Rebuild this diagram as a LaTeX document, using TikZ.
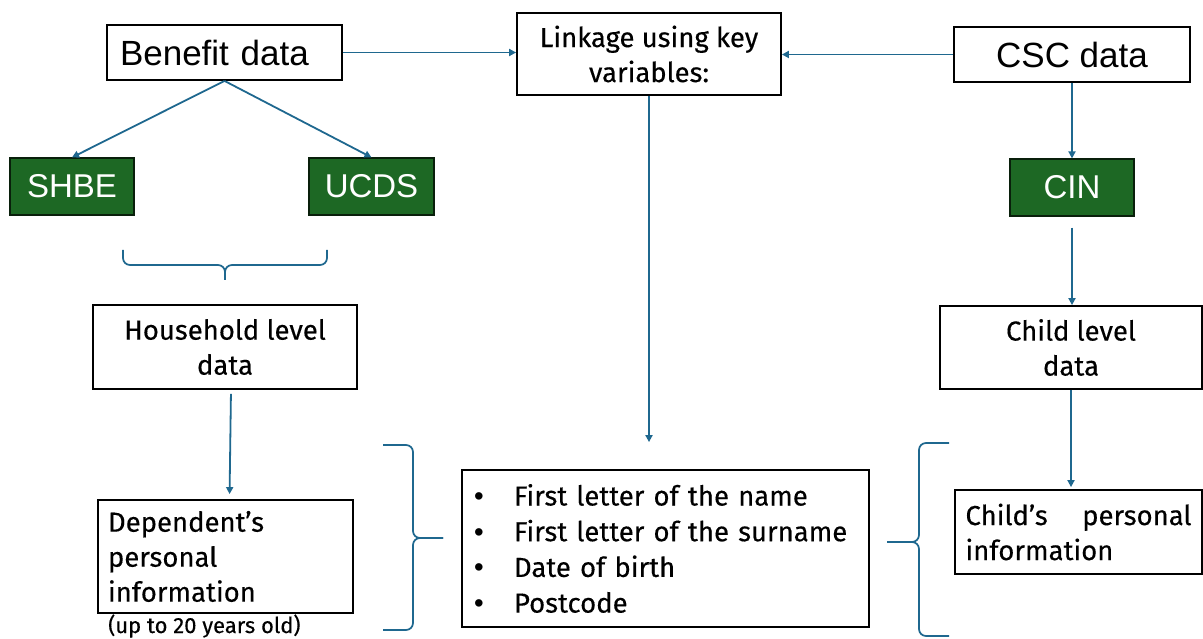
\documentclass[tikz,border=0pt]{standalone}
\usepackage{fontspec}
\setmainfont{Fira Sans}[UprightFeatures={FakeBold=0.3}]
\newfontfamily\arialfont{Liberation Sans}
\usetikzlibrary{arrows.meta,calc}
\definecolor{linkblue}{RGB}{31,104,143}
\definecolor{srcgreen}{RGB}{29,104,36}
\newcommand{\keybullet}{\makebox[40pt][l]{\arialfont\textbullet}}
\begin{document}
\begin{tikzpicture}[x=1pt,y=-1pt,
  box/.style={draw=black, line width=1.8pt, inner sep=0pt, fill=white},
  srcbox/.style={box, minimum height=55pt, font=\arialfont\fontsize{35}{40}\selectfont},
  greenbox/.style={draw=black!70!srcgreen, fill=srcgreen, text=white, line width=1.2pt,
    inner sep=0pt, minimum height=57pt, font=\arialfont\fontsize{33}{38}\selectfont},
  infobox/.style={box, font=\fontsize{27.5}{35}\selectfont},
  arr/.style={draw=linkblue, line width=1.8pt, -{Triangle[length=7pt,width=7pt]}},
  brace/.style={draw=linkblue, line width=1.7pt, rounded corners=7pt}]
\useasboundingbox (0,0) rectangle (1203,639);

% source data sets
\node[srcbox, text width=209pt, align=left, inner xsep=13pt] (ben) at (224.5,52.5) {Benefit data};
\node[srcbox, minimum width=236pt] (csc) at (1072,54.5) {CSC data};
\node[infobox, align=center, minimum width=264pt, minimum height=82pt] (link) at (649,54) {Linkage using key\\variables:};

% data products
\node[greenbox, minimum width=124pt] (shbe) at (72,186.5) {SHBE};
\node[greenbox, minimum width=125pt] (ucds) at (371.5,186.5) {UCDS};
\node[greenbox, minimum width=124pt] (cin) at (1072,187.5) {CIN};

% levels of the data
\node[infobox, align=center, minimum width=264pt, minimum height=84pt] (house) at (225,347) {Household level\\data};
\node[infobox, align=center, minimum width=262pt, minimum height=83pt] (child) at (1071,347.5) {Child level\\data};

% personal information
\node[infobox, align=left, text width=235pt, inner xsep=10pt, minimum height=113pt] (dep) at (225.5,556.5)
  {Dependent’s\\personal\\information};
\node[anchor=base west, inner sep=0pt, font=\fontsize{22}{24}\selectfont] (age) at (108,633) {(up to 20 years old)};
\node[infobox, align=left, text width=226pt, inner xsep=10.5pt, minimum height=84pt] (childp) at (1078.5,532)
  {Child’s\hfill personal\\information};

% key variables
\node[infobox, font=\fontsize{27.5}{35.7}\selectfont, align=left, text width=383pt, inner xsep=12pt,
  minimum height=157pt] (bullets) at (665.5,548.5)
  {\keybullet First letter of the name\\
   \keybullet First letter of the surname\\
   \keybullet Date of birth\\
   \keybullet Postcode};

% connectors
\draw[arr] (ben.south) -- (shbe.north);
\draw[arr] (ben.south) -- (ucds.north);
\draw[arr] (ben.east) -- (ben.east -| link.west);
\draw[arr] (csc.west) -- (csc.west -| link.east);
\draw[arr] (csc.south) -- (cin.north);
\draw[arr, shorten <=11pt] (cin.south) -- (cin.south |- child.north);
\draw[arr, shorten >=27pt] (link.south) -- (link.south |- bullets.north);
\draw[arr, shorten <=4pt, shorten >=5pt] ([xshift=6pt]house.south) -- ([xshift=4pt]dep.north);
\draw[arr, shorten >=2pt] (child.south) -- (child.south |- childp.north);

% braces
\draw[brace] (123,250) -- (123,265) -- (225,265) -- (225,280);
\draw[brace] (327,250) -- (327,265) -- (225,265) -- (225,280);
\draw[brace] (383,445) -- (413,445) -- (413,538) -- (443,538);
\draw[brace] (383,630) -- (413,630) -- (413,538) -- (443,538);
\draw[brace] (949,443) -- (919,443) -- (919,542) -- (887,542);
\draw[brace] (949,636) -- (919,636) -- (919,542) -- (887,542);
\end{tikzpicture}
\end{document}
